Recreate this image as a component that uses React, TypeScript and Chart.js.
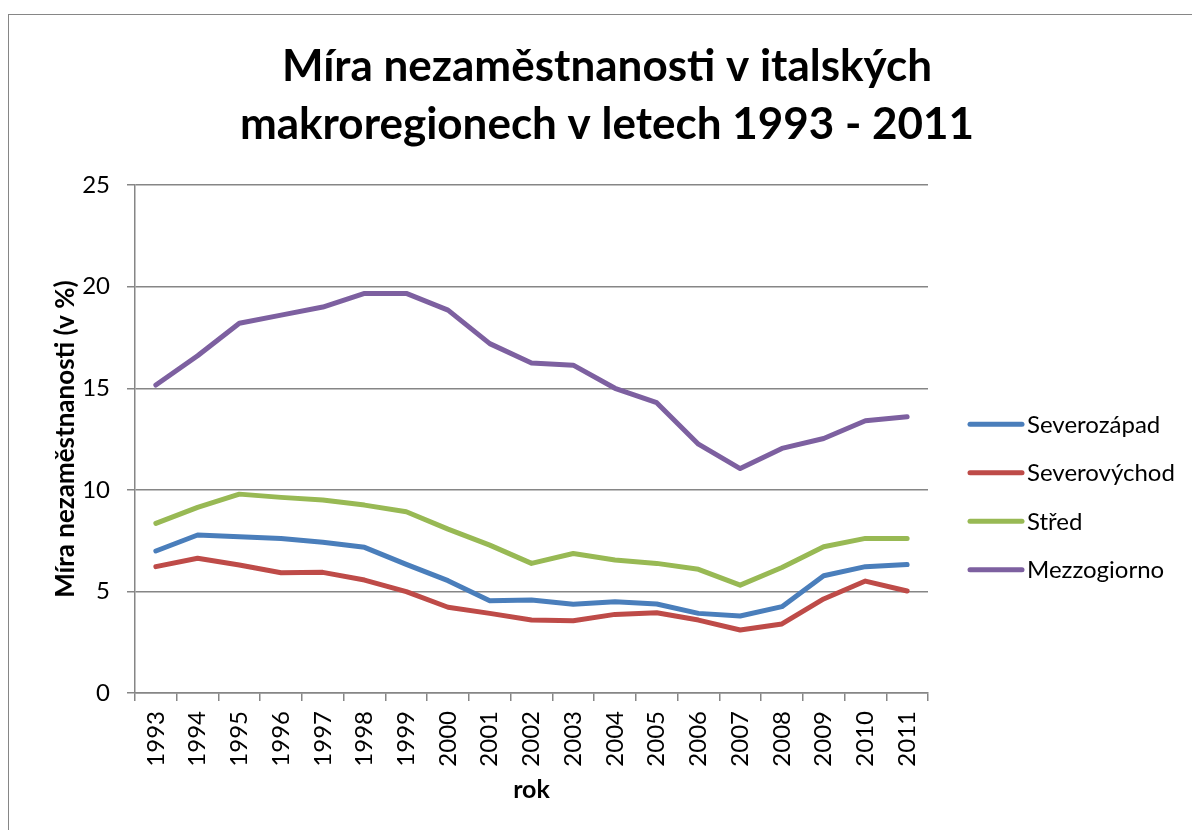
import React, { useEffect, useRef } from "react";
import { Chart, registerables } from "chart.js";

Chart.register(...registerables);

const years = ["1993","1994","1995","1996","1997","1998","1999","2000","2001","2002","2003","2004","2005","2006","2007","2008","2009","2010","2011"];
const severozapad = [6.99,7.78,7.69,7.61,7.42,7.17,6.33,5.53,4.54,4.58,4.37,4.49,4.38,3.92,3.79,4.25,5.77,6.22,6.32];
const severovychod = [6.22,6.63,6.3,5.92,5.94,5.56,4.99,4.22,3.92,3.59,3.56,3.87,3.95,3.59,3.1,3.4,4.63,5.51,5.02];
const stred = [8.35,9.14,9.79,9.63,9.5,9.25,8.92,8.07,7.28,6.38,6.87,6.55,6.38,6.09,5.31,6.18,7.2,7.61,7.61];
const mezzogiorno = [15.16,16.6,18.2,18.6,19.0,19.67,19.67,18.85,17.2,16.25,16.14,15.0,14.29,12.25,11.05,12.04,12.53,13.4,13.6];
const seriesNames = ["Severozápad","Severovýchod","Střed","Mezzogiorno"];
const seriesColors = ["#4A7EBB","#BE4B48","#98B954","#7D60A0"];
const titleLines = ["Míra nezaměstnanosti v italských","makroregionech v letech 1993 - 2011"];
const yTitle = "Míra nezaměstnanosti (v %)";
const xTitle = "rok";

const FONT = "Lato, 'Open Sans', sans-serif";
const GRID = "#868686";

const legendPlugin = {
  id: "customLegend",
  afterDraw(chart: any) {
    const { ctx, chartArea } = chart;
    ctx.save();
    chart.data.datasets.forEach((ds: any, i: number) => {
      const y = chartArea.top + 239 + i * 48.5;
      const x1 = chartArea.right + 42;
      const x2 = chartArea.right + 94;
      ctx.strokeStyle = ds.borderColor;
      ctx.lineWidth = 5;
      ctx.lineCap = "round";
      ctx.beginPath();
      ctx.moveTo(x1, y);
      ctx.lineTo(x2, y);
      ctx.stroke();
      ctx.fillStyle = "#000";
      ctx.font = `24px ${FONT}`;
      ctx.textBaseline = "middle";
      ctx.textAlign = "left";
      ctx.fillText(ds.label, x2 + 5, y + 1);
    });
    ctx.restore();
  },
};

export default function App() {
  const ref = useRef<HTMLCanvasElement | null>(null);
  useEffect(() => {
    if (!ref.current) return;
    const data = [severozapad, severovychod, stred, mezzogiorno];
    const chart = new Chart(ref.current, {
      type: "line",
      data: {
        labels: years,
        datasets: data.map((d, i) => ({
          label: seriesNames[i],
          data: d,
          borderColor: seriesColors[i],
          backgroundColor: seriesColors[i],
          borderWidth: 5,
          pointRadius: 0,
          borderCapStyle: "round",
          borderJoinStyle: "round",
          tension: 0,
          yAxisID: "y",
        })),
      },
      options: {
        responsive: false,
        animation: false,
        layout: { padding: 0 },
        plugins: {
          legend: { display: false },
          tooltip: { enabled: false },
          title: {
            display: true,
            text: titleLines,
            color: "#000",
            font: { family: FONT, size: 44, weight: "bold", lineHeight: 1.32 },
            padding: { top: 23, bottom: 31 },
          },
        },
        scales: {
          x: {
            offset: true,
            grid: {
              offset: true,
              drawOnChartArea: false,
              drawTicks: true,
              tickLength: 8,
              color: GRID,
              lineWidth: 1.5,
            },
            border: { display: true, color: GRID, width: 1.5 },
            ticks: {
              color: "#000",
              font: { family: FONT, size: 24 },
              minRotation: 90,
              maxRotation: 90,
              autoSkip: false,
              padding: 10,
            },
            title: {
              display: true,
              text: xTitle,
              color: "#000",
              font: { family: FONT, size: 25, weight: "bold", lineHeight: 1.2 },
              padding: { top: 0, bottom: 25 },
            },
            afterFit(scale: any) {
              scale.height = 137;
            },
          },
          y: {
            min: 0,
            max: 25,
            ticks: {
              stepSize: 5,
              color: "#000",
              font: { family: FONT, size: 24 },
              padding: 17,
            },
            grid: { color: GRID, lineWidth: 1.5, tickLength: 8, drawTicks: true },
            border: { display: true, color: GRID, width: 1.5 },
            title: {
              display: true,
              text: yTitle,
              color: "#000",
              font: { family: FONT, size: 26, weight: "bold", lineHeight: 1.2 },
              padding: { top: 41, bottom: 0 },
            },
            afterFit(scale: any) {
              scale.width = 126;
            },
          },
          legendSpace: {
            type: "linear",
            position: "right",
            min: 0,
            max: 1,
            display: true,
            grid: { display: false, drawOnChartArea: false },
            border: { display: false },
            ticks: { display: false },
            afterFit(scale: any) {
              scale.width = 277;
            },
          },
        },
      },
      plugins: [legendPlugin],
    } as any);
    return () => chart.destroy();
  }, []);

  return (
    <div style={{ position: "fixed", left: 0, top: 0, width: 1192, height: 830, overflow: "hidden", background: "#fff" }}>
      <div style={{ position: "absolute", left: 8, top: 14, width: 1300, height: 900, border: `1px solid ${GRID}` }}>
        <canvas ref={ref} width={1196} height={815} style={{ display: "block", width: 1196, height: 815 }} />
      </div>
    </div>
  );
}
